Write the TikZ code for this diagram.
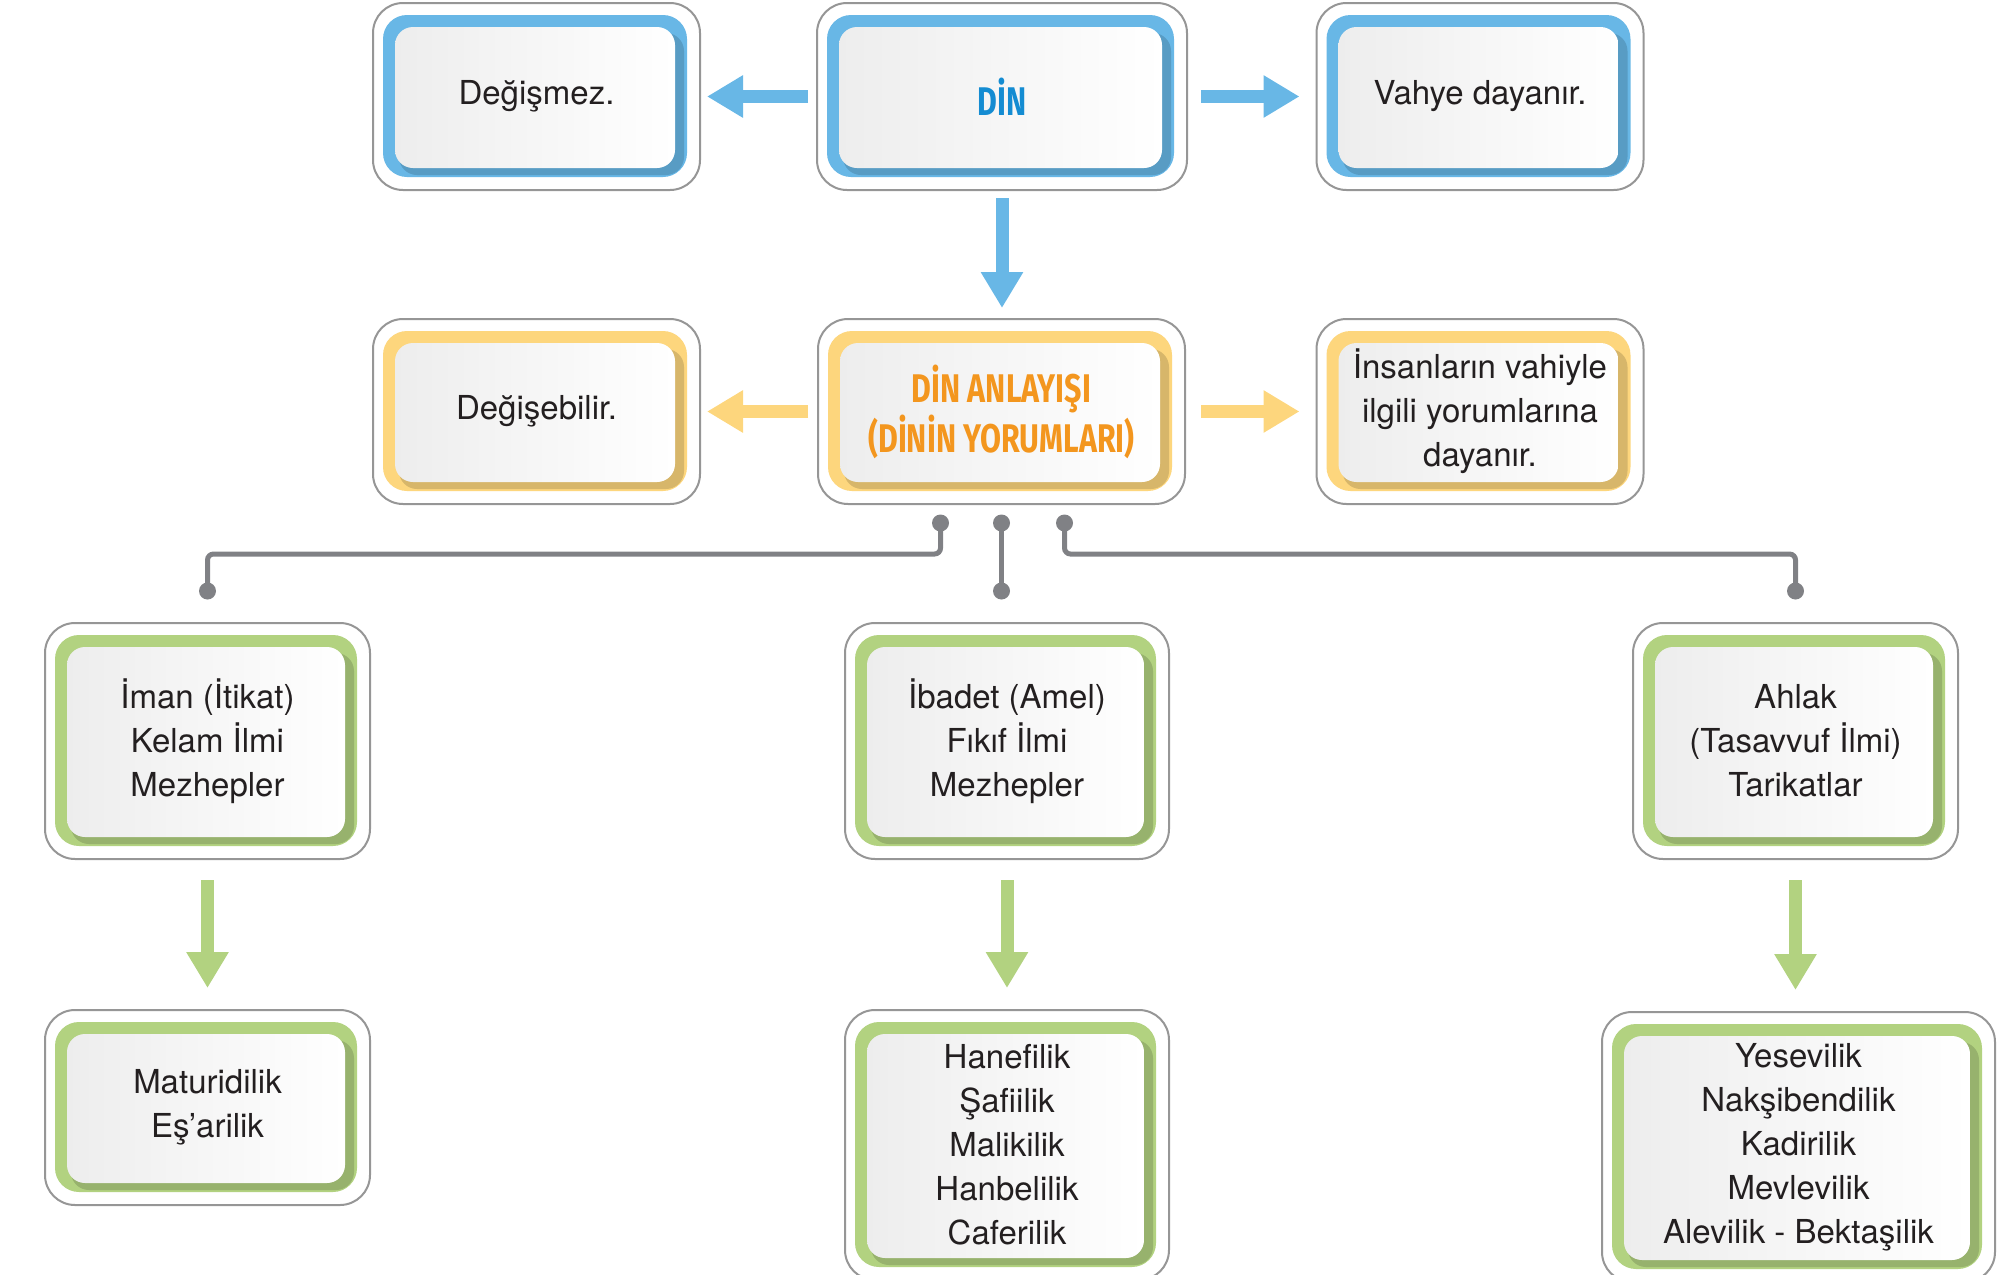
\documentclass[tikz,border=0pt]{standalone}
\usepackage{fontspec}
\setmainfont{TeX Gyre Heros}
\newfontfamily\titlefont[FakeStretch=0.76]{Fira Sans}
\usetikzlibrary{arrows.meta}

\definecolor{dinblue}{RGB}{104,183,230}
\definecolor{dinyellow}{RGB}{253,214,125}
\definecolor{dingreen}{RGB}{178,210,128}
\definecolor{titleblue}{RGB}{20,140,210}
\definecolor{titleorange}{RGB}{243,150,30}
\definecolor{linkgray}{RGB}{128,129,133}
\definecolor{frameline}{RGB}{150,150,150}
\definecolor{textblack}{RGB}{35,31,32}

\newcommand{\bodytext}{\fontsize{16.5pt}{22pt}\selectfont}
\newcommand{\titletext}{\titlefont\bfseries\fontsize{20pt}{23.5pt}\selectfont}

\tikzset{
  boxsize/.style 2 args={minimum width=#1*0.5pt, minimum height=#2*0.5pt},
  panel/.style={draw=frameline, line width=1pt, fill=white, rounded corners=15pt,
    outer sep=0pt, inner sep=0pt, align=center, text=textblack, font=\bodytext,
    path picture={
      % coloured band, its shadow, then the light inner plate
      \fill[#1, rounded corners=12pt]
        ([shift={(10,12)}]path picture bounding box.north west) rectangle
        ([shift={(-13,-13)}]path picture bounding box.south east);
      \fill[#1!85!black, rounded corners=9pt]
        ([shift={(26,30)}]path picture bounding box.north west) rectangle
        ([shift={(-16,-15)}]path picture bounding box.south east);
      \shade[left color=black!7, right color=white, rounded corners=9pt]
        ([shift={(22,24)}]path picture bounding box.north west) rectangle
        ([shift={(-25,-22)}]path picture bounding box.south east);
    }},
  bigarrow/.style={#1, line width=6.5pt, -{Triangle[length=18pt, width=20pt]}},
  link/.style={linkgray, line width=2.5pt, rounded corners=3pt}
}

\begin{document}
\begin{tikzpicture}[x=0.5pt, y=-0.5pt]
\useasboundingbox (0,0) rectangle (2010,1275);

% top row
\node[panel=dinblue, boxsize={327}{187}] (degismez) at (536.5,96.5) {Değişmez.};
\node[panel=dinblue, boxsize={370}{187}, font=\titletext, text=titleblue] (din) at (1002,96.5) {DİN};
\node[panel=dinblue, boxsize={327}{187}] (vahye) at (1480,96.5) {Vahye dayanır.};

% second row
\node[panel=dinyellow, boxsize={327}{185}] (degisebilir) at (536.5,411.5) {Değişebilir.};
\node[panel=dinyellow, boxsize={367}{185}, font=\titletext, text=titleorange] (anlayis) at (1001.5,411.5)
  {DİN ANLAYIŞI\\(DİNİN YORUMLARI)};
\node[panel=dinyellow, boxsize={327}{185}] (insan) at (1480,411.5)
  {İnsanların vahiyle\\ilgili yorumlarına\\dayanır.};

% fields
\node[panel=dingreen, boxsize={325}{236}] (iman) at (207.5,741) {İman (İtikat)\\Kelam İlmi\\Mezhepler};
\node[panel=dingreen, boxsize={324}{236}] (ibadet) at (1007,741) {İbadet (Amel)\\Fıkıf İlmi\\Mezhepler};
\node[panel=dingreen, boxsize={325}{236}] (ahlak) at (1795.5,741) {Ahlak\\(Tasavvuf İlmi)\\Tarikatlar};

% schools
\node[panel=dingreen, boxsize={325}{195}] (maturidi) at (207.5,1107.5) {Maturidilik\\Eş’arilik};
\node[panel=dingreen, boxsize={324}{270}] (hanefi) at (1007,1145)
  {Hanefilik\\Şafiilik\\Malikilik\\Hanbelilik\\Caferilik};
\node[panel=dingreen, boxsize={393}{270}] (yesevi) at (1798.5,1147)
  {Yesevilik\\Nakşibendilik\\Kadirilik\\Mevlevilik\\Alevilik - Bektaşilik};

% arrows
\draw[bigarrow=dinblue, shorten <=4.5pt, shorten >=3.5pt] (din) -- (degismez);
\draw[bigarrow=dinblue, shorten <=7pt, shorten >=8.5pt] (din) -- (vahye);
\draw[bigarrow=dinblue, shorten <=4pt, shorten >=5.5pt] (din.south) -- (din.south |- anlayis.north);
\draw[bigarrow=dinyellow, shorten <=5pt, shorten >=3.5pt] (anlayis) -- (degisebilir);
\draw[bigarrow=dinyellow, shorten <=8pt, shorten >=8.5pt] (anlayis) -- (insan);
\foreach \a/\b in {iman/maturidi, ibadet/hanefi, ahlak/yesevi}
  \draw[bigarrow=dingreen, shorten <=10.5pt, shorten >=11pt] (\a.south) -- (\a.south |- \b.north);

% links from the interpretations
\coordinate (lt) at ([shift={(-61,19)}]anlayis.south);
\coordinate (mt) at ([shift={(0,19)}]anlayis.south);
\coordinate (rt) at ([shift={(63,19)}]anlayis.south);
\coordinate (lb) at ([shift={(0,-32)}]iman.north);
\coordinate (rb) at ([shift={(0,-32)}]ahlak.north);
\coordinate (mb) at (mt |- lb);

\draw[link] (lt) -- ++(0,31) -| (lb);
\draw[link] (mt) -- (mb);
\draw[link] (rt) -- ++(0,31) -| (rb);
\foreach \p in {lt,mt,rt,lb,mb,rb}
  \fill[linkgray] (\p) circle[radius=8.5];

\end{tikzpicture}
\end{document}
